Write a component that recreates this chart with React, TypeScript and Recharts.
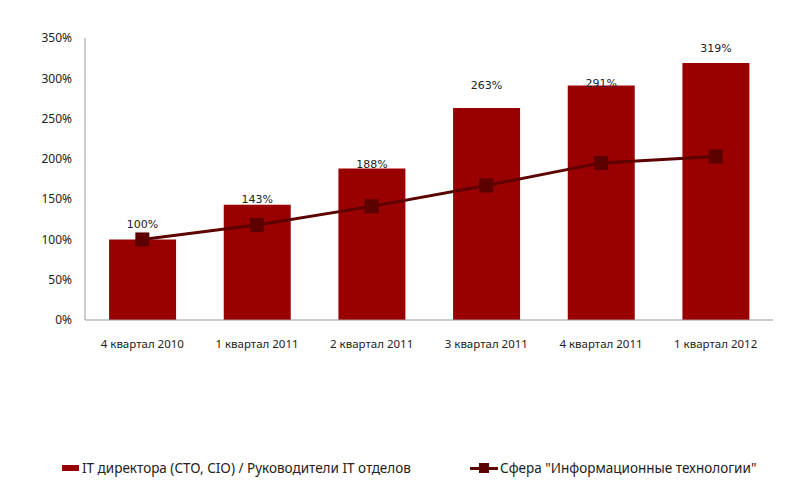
import React from 'react';
import { ComposedChart, Bar, Line, XAxis, YAxis, Legend, LabelList } from 'recharts';

const quarters = ['4 квартал 2010', '1 квартал 2011', '2 квартал 2011', '3 квартал 2011', '4 квартал 2011', '1 квартал 2012'];
const itDirectors = [100, 143, 188, 263, 291, 319];
const itSphere = [100, 118, 141, 167, 195, 203];
const yTicks = [0, 50, 100, 150, 200, 250, 300, 350];

const barName = 'IT директора (СТО, СIO) / Руководители IT отделов';
const lineName = 'Сфера "Информационные технологии"';

// excel puts the labels at uneven heights, mimic that
const labelLift = [14, 5, 4, 22, 2, 14];

const BAR_COLOR = '#990000';
const LINE_COLOR = '#5c0000';

const chartData = quarters.map((q, i) => ({
  quarter: q,
  directors: itDirectors[i],
  sphere: itSphere[i],
}));

const SquareDot = (props: any) => {
  const { cx, cy } = props;
  if (cx == null || cy == null) return null;
  return <rect x={cx - 7} y={cy - 7} width={14} height={14} fill={LINE_COLOR} />;
};

const BarLabel = (props: any) => {
  const { x, y, width, value, index } = props;
  return (
    <text
      x={x + width / 2}
      y={y - labelLift[index]}
      textAnchor="middle"
      dominantBaseline="middle"
      fontSize={11}
      fontFamily="DejaVu Sans, sans-serif"
      fill="#222"
    >
      {value}%
    </text>
  );
};

const legendText: React.CSSProperties = { fontFamily: 'Noto Sans, sans-serif', fontSize: 13.5, color: '#222', whiteSpace: 'nowrap' };

const LegendContent = () => (
  <div style={{ position: 'relative', width: 740, height: 20 }}>
    <div style={{ position: 'absolute', left: 0, top: 0, display: 'flex', alignItems: 'center', ...legendText }}>
      <span style={{ display: 'inline-block', width: 17, height: 6, background: BAR_COLOR, marginRight: 3 }} />
      <span>{barName}</span>
    </div>
    <div style={{ position: 'absolute', left: 408, top: 0, display: 'flex', alignItems: 'center', ...legendText }}>
      <span style={{ position: 'relative', display: 'inline-block', width: 28, height: 12, marginRight: 2 }}>
        <span style={{ position: 'absolute', left: 0, top: 5, width: 28, height: 3, background: LINE_COLOR }} />
        <span style={{ position: 'absolute', left: 9, top: 1, width: 10, height: 10, background: LINE_COLOR }} />
      </span>
      <span>{lineName}</span>
    </div>
  </div>
);

export default function App() {
  return (
    <div style={{ position: 'absolute', left: 0, top: 0, width: 800, height: 501, background: '#fff' }}>
      <ComposedChart
        width={800}
        height={501}
        data={chartData}
        margin={{ top: 38, right: 27, bottom: 121, left: 0 }}
        barCategoryGap="21%"
      >
        <XAxis
          dataKey="quarter"
          axisLine={{ stroke: '#999' }}
          tickLine={false}
          tickMargin={14}
          height={40}
          tick={{ fontSize: 11.5, fontFamily: 'Noto Sans, sans-serif', fill: '#222' }}
          interval={0}
        />
        <YAxis
          width={85}
          domain={[0, 350]}
          ticks={yTicks}
          tickFormatter={(v: number) => `${v}%`}
          axisLine={{ stroke: '#999' }}
          tickLine={false}
          tickMargin={7}
          tick={{ fontSize: 12, fontFamily: 'Noto Sans, sans-serif', fill: '#222' }}
        />
        <Bar dataKey="directors" name={barName} fill={BAR_COLOR} isAnimationActive={false}>
          <LabelList dataKey="directors" content={<BarLabel />} />
        </Bar>
        <Line
          dataKey="sphere"
          name={lineName}
          type="linear"
          stroke={LINE_COLOR}
          strokeWidth={3}
          dot={<SquareDot />}
          activeDot={false}
          isAnimationActive={false}
        />
        <Legend
          content={<LegendContent />}
          wrapperStyle={{ position: 'absolute', left: 62, top: 459, width: 740 }}
        />
      </ComposedChart>
    </div>
  );
}
